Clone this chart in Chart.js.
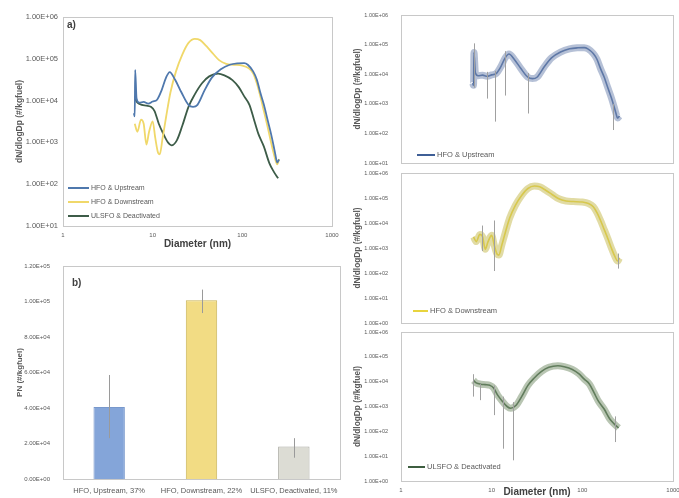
<!DOCTYPE html>
<html><head><meta charset="utf-8">
<script src="https://cdn.jsdelivr.net/npm/chart.js@4/dist/chart.umd.min.js"></script>
<style>
html,body{margin:0;padding:0;background:#fff;width:679px;height:498px;overflow:hidden}
canvas{position:absolute}
</style></head><body>
<canvas id="ca" width="340" height="250" style="left:0;top:0"></canvas>
<canvas id="cb" width="343" height="248" style="left:0;top:250px"></canvas>
<canvas id="r1" width="336" height="166" style="left:343px;top:0"></canvas>
<canvas id="r2" width="336" height="162" style="left:343px;top:166px"></canvas>
<canvas id="r3" width="336" height="170" style="left:343px;top:328px"></canvas>
<script>
// ---------- data ----------
const diameterTicks = [1, 10, 100, 1000];
const sizeTicksA = [1e1, 1e2, 1e3, 1e4, 1e5, 1e6];
const sizeTicksR1 = [1e1, 1e2, 1e3, 1e4, 1e5, 1e6];
const sizeTicksR = [1e0, 1e1, 1e2, 1e3, 1e4, 1e5, 1e6];
const pnTicks = [0, 2e4, 4e4, 6e4, 8e4, 1e5, 1.2e5];

const seriesNames = ["HFO & Upstream", "HFO & Downstream", "ULSFO & Deactivated"];

const upstreamD = [6.17, 6.31, 6.38, 6.61, 7.08, 7.94, 8.91, 10.0, 11.2, 12.6, 14.1, 15.5, 17.8, 20.9, 25.1, 28.2, 31.6, 38.0, 45.7, 57.5, 72.4, 89.1, 105, 115, 132, 145, 158, 174, 191, 209, 224, 234, 245, 257];
const upstreamN = [5.0e3, 4.2e3, 5.4e4, 1.12e4, 8.9e3, 9.3e3, 8.5e3, 9.5e3, 1.05e4, 1.78e4, 3.55e4, 4.8e4, 3.16e4, 1.58e4, 7.9e3, 7.1e3, 7.9e3, 1.78e4, 3.55e4, 5.6e4, 7.2e4, 7.8e4, 7.9e4, 7.2e4, 5.0e4, 3.2e4, 1.6e4, 8.0e3, 3.5e3, 1.6e3, 8.0e2, 5.0e2, 3.3e2, 3.9e2];

const downstreamD = [6.31, 6.76, 7.41, 7.94, 8.51, 9.12, 10.0, 10.7, 11.5, 12.0, 12.9, 14.1, 15.8, 18.2, 21.4, 25.1, 29.5, 33.9, 39.8, 46.8, 55.0, 66.1, 79.4, 100, 117, 132, 145, 158, 174, 191, 209, 229, 245, 257];
const downstreamN = [2.8e3, 1.8e3, 3.5e3, 2.8e3, 8.9e2, 1.8e3, 3.2e3, 1.26e3, 5.6e2, 5.2e2, 1.26e3, 4.0e3, 1.58e4, 5.0e4, 1.26e5, 2.4e5, 3.0e5, 2.8e5, 2.0e5, 1.35e5, 9.3e4, 7.6e4, 7.2e4, 6.9e4, 6.0e4, 4.5e4, 2.6e4, 1.32e4, 5.6e3, 2.4e3, 1.0e3, 4.5e2, 3.0e2, 4.0e2];

const deactivatedD = [6.31, 6.76, 7.59, 8.51, 9.55, 10.5, 11.7, 13.2, 14.8, 16.2, 18.6, 21.4, 25.1, 29.5, 35.5, 42.7, 53.7, 63.1, 77.6, 91.2, 105, 120, 135, 151, 174, 200, 224, 251];
const deactivatedN = [1.12e4, 8.9e3, 7.9e3, 7.6e3, 7.1e3, 5.6e3, 2.8e3, 1.58e3, 1.0e3, 8.5e2, 1.12e3, 2.5e3, 7.1e3, 1.41e4, 2.6e4, 3.8e4, 4.4e4, 4.0e4, 3.1e4, 2.1e4, 1.26e4, 7.9e3, 3.5e3, 1.6e3, 7.9e2, 3.2e2, 2.0e2, 1.38e2];

// error bars of the detail panels (diameter, low, high)
const upErrD = [6.4, 8.8, 11.0, 14.1, 25.1, 219];
const upErrLo = [3.5e3, 1.5e3, 2.5e2, 1.9e3, 4.7e2, 1.3e2];
const upErrHi = [1.1e5, 1.2e4, 1.3e4, 6.0e4, 1.1e4, 1.0e3];
const downErrD = [7.8, 10.5, 245];
const downErrLo = [7.6e2, 1.2e2, 1.5e2];
const downErrHi = [7.9e3, 1.26e4, 6.0e2];
const deacErrD = [6.3, 7.4, 10.5, 13.5, 17.0, 229];
const deacErrLo = [2.5e3, 1.8e3, 4.5e2, 20, 6.8, 37];
const deacErrHi = [2.0e4, 8.0e3, 7.0e3, 2.5e3, 1.5e3, 4.0e2];

// bar panel b
const pnCategories = ["HFO, Upstream, 37%", "HFO, Downstream, 22%", "ULSFO, Deactivated, 11%"];
const pnValues = [4.05e4, 1.007e5, 1.83e4];
const pnErrLo = [2.3e4, 9.35e4, 1.2e4];
const pnErrHi = [5.86e4, 1.067e5, 2.3e4];

// ---------- helpers ----------
function fmtE(v) {
  if (v === 0) return "0.00E+00";
  const e = Math.floor(Math.log10(Math.abs(v)) + 1e-9);
  const m = v / Math.pow(10, e);
  return m.toFixed(2) + "E" + (e < 0 ? "-" : "+") + String(Math.abs(e)).padStart(2, "0");
}
function pts(xs, ys) { return xs.map((x, i) => ({ x: x, y: ys[i] })); }
const FONT = "'Liberation Sans', Arial, sans-serif";
const TXT = "#595959";

const framePlugin = {
  id: "frame",
  afterDatasetsDraw(chart) {
    const a = chart.chartArea, c = chart.ctx;
    c.save(); c.strokeStyle = "#c8c8c8"; c.lineWidth = 1;
    c.strokeRect(Math.round(a.left) + 0.5, Math.round(a.top) + 0.5, Math.round(a.right - a.left), Math.round(a.bottom - a.top));
    c.restore();
  }
};
const errPlugin = {
  id: "errBars",
  afterDatasetsDraw(chart, args, o) {
    if (!o || !o.x) return;
    const c = chart.ctx, xs = chart.scales.x, ys = chart.scales.y;
    c.save(); c.strokeStyle = o.color || "#999"; c.lineWidth = o.width || 1;
    c.beginPath(); c.rect(chart.chartArea.left, chart.chartArea.top, chart.chartArea.right - chart.chartArea.left, chart.chartArea.bottom - chart.chartArea.top); c.clip();
    o.x.forEach((xv, i) => {
      const px = Math.round(xs.getPixelForValue(xv)) + 0.5;
      const y1 = ys.getPixelForValue(o.lo[i]), y2 = ys.getPixelForValue(o.hi[i]);
      c.beginPath(); c.moveTo(px, y1); c.lineTo(px, y2); c.stroke();
    });
    c.restore();
  }
};
const legendPlugin = {
  id: "miniLegend",
  afterDraw(chart, args, o) {
    if (!o || !o.items) return;
    const a = chart.chartArea, c = chart.ctx;
    c.save(); c.font = (o.size || 6) + "px " + FONT; c.textBaseline = "middle";
    o.items.forEach((it, i) => {
      const y = a.bottom + o.dy + i * (o.step || 14);
      const x0 = a.left + o.dx;
      c.strokeStyle = it.color; c.lineWidth = it.width || 2;
      c.beginPath(); c.moveTo(x0, y); c.lineTo(x0 + o.len, y); c.stroke();
      c.fillStyle = TXT; c.fillText(it.label, x0 + o.len + 2, y);
    });
    c.restore();
  }
};
const tagPlugin = {
  id: "tag",
  afterDraw(chart, args, o) {
    if (!o || !o.text) return;
    const a = chart.chartArea, c = chart.ctx;
    c.save(); c.font = "bold 10px " + FONT; c.fillStyle = "#404040"; c.textBaseline = "middle";
    c.fillText(o.text, a.left + o.dx, a.top + o.dy); c.restore();
  }
};
Chart.register(framePlugin, errPlugin, legendPlugin, tagPlugin);

function fitY(width) { return s => { s.width = width; s.paddingTop = 0; s.paddingBottom = 0; }; }
function fitX(height) { return s => { s.height = height; s.paddingLeft = 0; s.paddingRight = 0; }; }

function logY(ticks, min, max, fontSize, pad, titleSize, titlePad, width) {
  return {
    type: "logarithmic", min: min, max: max,
    afterBuildTicks: s => { s.ticks = ticks.map(v => ({ value: v })); },
    afterFit: fitY(width),
    ticks: { callback: v => fmtE(v), font: { size: fontSize, family: FONT }, color: TXT, padding: pad, autoSkip: false },
    grid: { display: false, drawTicks: false }, border: { display: false },
    title: { display: true, text: "dN/dlogDp (#/kgfuel)", font: { size: titleSize, family: FONT, weight: "bold" }, color: TXT, padding: { top: titlePad, bottom: 0 } }
  };
}
function logX(show, height, tickPad) {
  return {
    type: "logarithmic", min: 1, max: 1000, display: show,
    afterBuildTicks: s => { s.ticks = diameterTicks.map(v => ({ value: v })); },
    afterFit: fitX(height),
    ticks: { callback: v => String(v), font: { size: 6, family: FONT }, color: TXT, padding: tickPad, autoSkip: false, maxRotation: 0 },
    grid: { display: false, drawTicks: false }, border: { display: false },
    title: { display: true, text: "Diameter (nm)", font: { size: 10, family: FONT, weight: "bold" }, color: "#404040", padding: { top: 0, bottom: 0 } }
  };
}
const base = { responsive: false, animation: false, devicePixelRatio: 1, events: [] };

const cUp = "#4f78ad", cDown = "#f0d86a", cDeac = "#3d5c48";

// ---------- panel a ----------
new Chart(document.getElementById("ca"), {
  type: "scatter",
  data: { datasets: [
    { label: seriesNames[0], data: pts(upstreamD, upstreamN), borderColor: cUp },
    { label: seriesNames[1], data: pts(downstreamD, downstreamN), borderColor: cDown },
    { label: seriesNames[2], data: pts(deactivatedD, deactivatedN), borderColor: cDeac }
  ].map(d => Object.assign(d, { showLine: true, pointRadius: 0, borderWidth: 1.8, cubicInterpolationMode: "monotone" })) },
  options: Object.assign({}, base, {
    layout: { padding: { left: 0, top: 17, right: 8, bottom: 0 } },
    scales: { x: logX(true, 24, 6), y: logY(sizeTicksA, 10, 1e6, 7.5, 5, 8.5, 15, 63) },
    plugins: { legend: { display: false }, tooltip: { enabled: false },
      tag: { text: "a)", dx: 4, dy: 8 },
      miniLegend: { dx: 5, dy: -38, step: 14, len: 21, size: 7, items: [
        { label: seriesNames[0], color: cUp }, { label: seriesNames[1], color: cDown }, { label: seriesNames[2], color: cDeac } ] } }
  })
});

// ---------- panel b ----------
new Chart(document.getElementById("cb"), {
  type: "bar",
  data: { labels: pnCategories, datasets: [{ data: pnValues,
    backgroundColor: ["#84a5d9", "#f2dc84", "#dcdcd4"], borderColor: ["#7898cc", "#c8b458", "#a8a8a0"], borderWidth: 1,
    barPercentage: 0.34, categoryPercentage: 1 }] },
  options: Object.assign({}, base, {
    layout: { padding: { left: 0, top: 16, right: 3, bottom: 0 } },
    scales: {
      x: { afterFit: fitX(19), ticks: { font: { size: 7.5, family: FONT }, color: TXT, padding: 7, maxRotation: 0, autoSkip: false },
        grid: { display: false, drawTicks: false }, border: { display: false } },
      y: { min: 0, max: 1.2e5, afterBuildTicks: s => { s.ticks = pnTicks.map(v => ({ value: v })); }, afterFit: fitY(63),
        ticks: { callback: v => fmtE(v), font: { size: 6, family: FONT }, color: TXT, padding: 13 },
        grid: { display: false, drawTicks: false }, border: { display: false },
        title: { display: true, text: "PN (#/kgfuel)", font: { size: 8, family: FONT, weight: "bold" }, color: TXT, padding: { top: 15, bottom: 0 } } }
    },
    plugins: { legend: { display: false }, tooltip: { enabled: false },
      tag: { text: "b)", dx: 9, dy: 17 },
      errBars: { x: [0, 1, 2], lo: pnErrLo, hi: pnErrHi, color: "#9a9a9a", width: 1 } }
  })
});

// ---------- detail panels ----------
function detail(id, xs, ys, name, lineColor, bandColor, ticks, ymin, errs, showX, xH, pad, leg) {
  new Chart(document.getElementById(id), {
    type: "scatter",
    data: { datasets: [
      { label: name + " band", data: pts(xs, ys), borderColor: bandColor, borderWidth: 7 },
      { label: name, data: pts(xs, ys), borderColor: lineColor, borderWidth: 1.6 }
    ].map(d => Object.assign(d, { showLine: true, pointRadius: 0, cubicInterpolationMode: "monotone" })) },
    options: Object.assign({}, base, {
      layout: { padding: pad },
      scales: { x: logX(showX, xH, 6), y: logY(ticks, ymin, 1e6, 5.5, 13, 8.3, 10, 58) },
      plugins: { legend: { display: false }, tooltip: { enabled: false },
        errBars: { x: errs[0], lo: errs[1], hi: errs[2], color: "#a0a0a0", width: 1 },
        miniLegend: { dx: leg[0], dy: leg[1], len: leg[2], size: 7.5, items: [{ label: name, color: lineColor }] } }
    })
  });
}
detail("r1", upstreamD, upstreamN, seriesNames[0], "#3f5f96", "rgba(120,140,180,0.55)", sizeTicksR1, 10,
  [upErrD, upErrLo, upErrHi], false, 0, { left: 0, top: 15, right: 6, bottom: 3 }, [16, -8, 18]);
detail("r2", downstreamD, downstreamN, seriesNames[1], "#e8d43e", "rgba(200,190,90,0.55)", sizeTicksR, 1,
  [downErrD, downErrLo, downErrHi], false, 0, { left: 0, top: 7, right: 6, bottom: 5 }, [12, -12, 15]);
detail("r3", deactivatedD, deactivatedN, seriesNames[2], "#3e5e40", "rgba(125,150,115,0.55)", sizeTicksR, 1,
  [deacErrD, deacErrLo, deacErrHi], true, 17, { left: 0, top: 4, right: 6, bottom: 0 }, [7, -14, 17]);
</script>
</body></html>
